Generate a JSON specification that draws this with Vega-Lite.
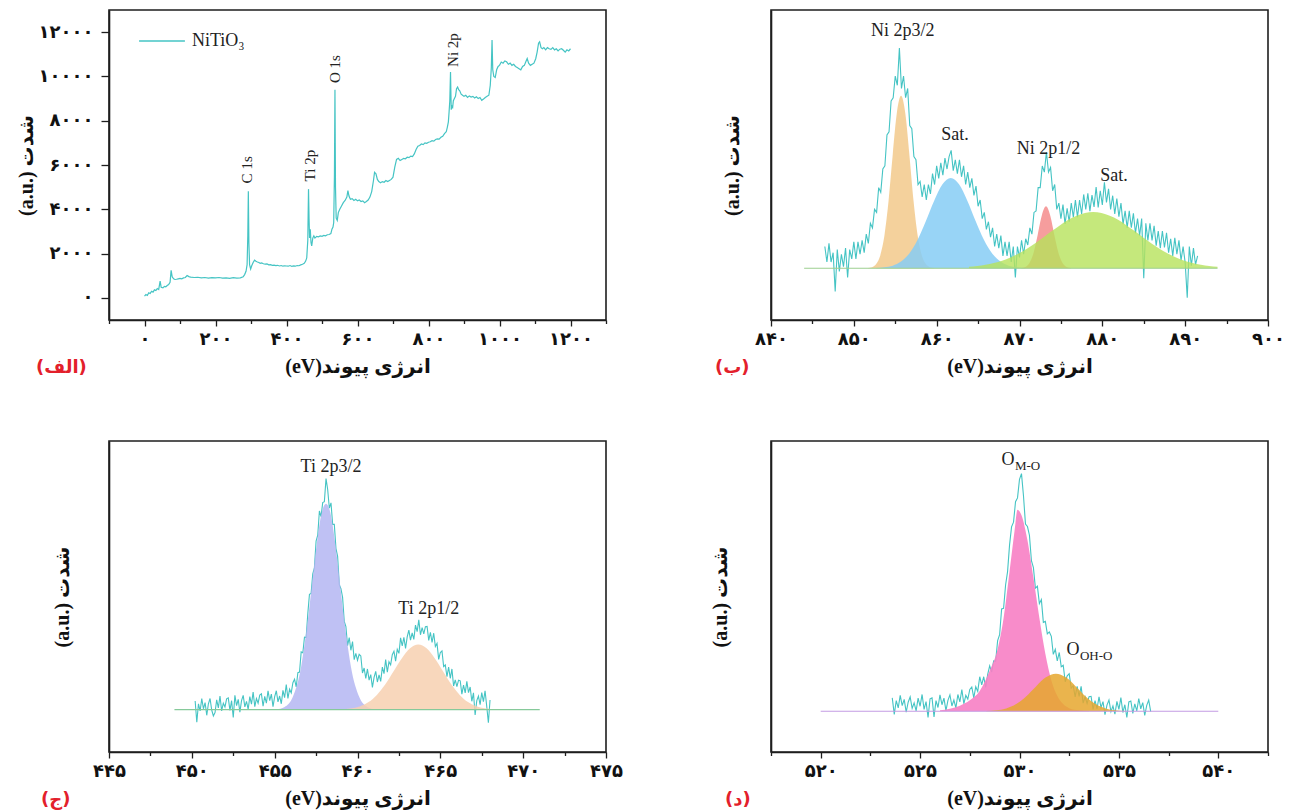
{
"$schema": "https://vega.github.io/schema/vega-lite/v6.json",
"padding": {"left": 15, "top": 9, "right": 0, "bottom": 0},
"background": "white",
"bounds": "flush",
"columns": 2,
"spacing": {"row": 121, "column": 165},
"config": {
  "view": {"stroke": "#1e1e1e", "strokeWidth": 1.6},
  "axis": {"domainColor": "#1e1e1e", "domainWidth": 1.6, "tickColor": "#1e1e1e", "tickWidth": 1.3, "labelFont": "DejaVu Sans", "labelFontWeight": "bold", "labelFontSize": 18, "labelColor": "#111", "titleFont": "Liberation Serif, DejaVu Sans", "titleFontWeight": "bold", "titleFontSize": 20, "titleColor": "#111", "grid": false, "labelFlush": false, "labelOverlap": false},
  "title": {"font": "DejaVu Sans", "fontWeight": "bold", "fontSize": 18, "color": "#e3202b", "frame": "group"}
},
"datasets": {
  "a": [{"e":0,"i":80},{"e":4,"i":150},{"e":8,"i":110},{"e":12,"i":230},{"e":16,"i":200},{"e":20,"i":300},{"e":24,"i":260},{"e":28,"i":360},{"e":32,"i":330},{"e":36,"i":420},{"e":40,"i":380},{"e":44,"i":760},{"e":47,"i":480},{"e":52,"i":450},{"e":56,"i":520},{"e":60,"i":500},{"e":64,"i":560},{"e":68,"i":600},{"e":72,"i":700},{"e":75,"i":1240},{"e":78,"i":950},{"e":82,"i":860},{"e":86,"i":830},{"e":90,"i":840},{"e":95,"i":860},{"e":100,"i":880},{"e":105,"i":860},{"e":110,"i":900},{"e":115,"i":920},{"e":120,"i":1010},{"e":125,"i":960},{"e":130,"i":940},{"e":140,"i":920},{"e":150,"i":930},{"e":160,"i":900},{"e":170,"i":920},{"e":180,"i":890},{"e":190,"i":910},{"e":200,"i":900},{"e":210,"i":920},{"e":220,"i":890},{"e":230,"i":900},{"e":240,"i":880},{"e":250,"i":910},{"e":260,"i":890},{"e":270,"i":900},{"e":278,"i":950},{"e":282,"i":1050},{"e":286,"i":1200},{"e":289,"i":1500},{"e":291,"i":2800},{"e":292.5,"i":4810},{"e":294,"i":2500},{"e":296,"i":1500},{"e":299,"i":1300},{"e":302,"i":1450},{"e":306,"i":1600},{"e":310,"i":1700},{"e":314,"i":1650},{"e":318,"i":1620},{"e":322,"i":1600},{"e":326,"i":1560},{"e":330,"i":1580},{"e":335,"i":1540},{"e":340,"i":1520},{"e":345,"i":1530},{"e":350,"i":1490},{"e":355,"i":1500},{"e":360,"i":1470},{"e":365,"i":1480},{"e":370,"i":1460},{"e":375,"i":1470},{"e":380,"i":1440},{"e":385,"i":1460},{"e":390,"i":1430},{"e":395,"i":1450},{"e":400,"i":1440},{"e":405,"i":1430},{"e":410,"i":1460},{"e":415,"i":1420},{"e":420,"i":1440},{"e":425,"i":1430},{"e":430,"i":1460},{"e":435,"i":1450},{"e":440,"i":1490},{"e":445,"i":1520},{"e":450,"i":1560},{"e":454,"i":1660},{"e":457,"i":1800},{"e":460,"i":2600},{"e":462,"i":4910},{"e":463.5,"i":3600},{"e":465,"i":2700},{"e":467,"i":3100},{"e":469,"i":2500},{"e":471,"i":2350},{"e":474,"i":2700},{"e":477,"i":2800},{"e":480,"i":2700},{"e":485,"i":2780},{"e":490,"i":2760},{"e":495,"i":2800},{"e":500,"i":2780},{"e":505,"i":2820},{"e":510,"i":2800},{"e":515,"i":2850},{"e":520,"i":2860},{"e":525,"i":2900},{"e":528,"i":3100},{"e":531,"i":3200},{"e":533,"i":3400},{"e":535,"i":5500},{"e":536.5,"i":9400},{"e":538,"i":5000},{"e":540,"i":3600},{"e":543,"i":3500},{"e":546,"i":3850},{"e":550,"i":4000},{"e":555,"i":4150},{"e":560,"i":4300},{"e":565,"i":4400},{"e":570,"i":4550},{"e":573,"i":4840},{"e":576,"i":4600},{"e":580,"i":4450},{"e":585,"i":4480},{"e":590,"i":4400},{"e":595,"i":4450},{"e":600,"i":4380},{"e":605,"i":4420},{"e":610,"i":4350},{"e":615,"i":4380},{"e":620,"i":4300},{"e":625,"i":4350},{"e":630,"i":4420},{"e":635,"i":4550},{"e":640,"i":4800},{"e":645,"i":5300},{"e":648,"i":5670},{"e":652,"i":5600},{"e":656,"i":5350},{"e":660,"i":5250},{"e":665,"i":5200},{"e":670,"i":5250},{"e":675,"i":5220},{"e":680,"i":5300},{"e":685,"i":5250},{"e":690,"i":5300},{"e":695,"i":5350},{"e":700,"i":5450},{"e":705,"i":5900},{"e":710,"i":6250},{"e":715,"i":6300},{"e":720,"i":6200},{"e":725,"i":6250},{"e":730,"i":6300},{"e":735,"i":6280},{"e":740,"i":6350},{"e":745,"i":6330},{"e":750,"i":6400},{"e":755,"i":6380},{"e":760,"i":6500},{"e":765,"i":6700},{"e":770,"i":6850},{"e":775,"i":6880},{"e":780,"i":6950},{"e":785,"i":6920},{"e":790,"i":7000},{"e":795,"i":6980},{"e":800,"i":7030},{"e":805,"i":7050},{"e":810,"i":7100},{"e":815,"i":7080},{"e":820,"i":7150},{"e":825,"i":7180},{"e":830,"i":7170},{"e":835,"i":7250},{"e":840,"i":7300},{"e":845,"i":7420},{"e":850,"i":7500},{"e":853,"i":7700},{"e":856,"i":7950},{"e":858,"i":8400},{"e":860,"i":8900},{"e":862,"i":10200},{"e":864,"i":8500},{"e":866,"i":8650},{"e":868,"i":8600},{"e":870,"i":8900},{"e":873,"i":9000},{"e":876,"i":9100},{"e":879,"i":9450},{"e":882,"i":9520},{"e":885,"i":9400},{"e":888,"i":9350},{"e":892,"i":9200},{"e":896,"i":9150},{"e":900,"i":9100},{"e":905,"i":9150},{"e":910,"i":9050},{"e":915,"i":9120},{"e":920,"i":9070},{"e":925,"i":9100},{"e":930,"i":9030},{"e":935,"i":9080},{"e":940,"i":9000},{"e":945,"i":9050},{"e":950,"i":8920},{"e":955,"i":8980},{"e":960,"i":9050},{"e":965,"i":9100},{"e":970,"i":9150},{"e":974,"i":9600},{"e":977,"i":10400},{"e":979,"i":11640},{"e":981,"i":10300},{"e":984,"i":10000},{"e":988,"i":9950},{"e":992,"i":10300},{"e":996,"i":10450},{"e":1000,"i":10500},{"e":1005,"i":10650},{"e":1010,"i":10600},{"e":1015,"i":10700},{"e":1020,"i":10660},{"e":1025,"i":10550},{"e":1030,"i":10600},{"e":1035,"i":10500},{"e":1040,"i":10550},{"e":1045,"i":10450},{"e":1050,"i":10400},{"e":1055,"i":10350},{"e":1060,"i":10300},{"e":1065,"i":10450},{"e":1070,"i":10500},{"e":1075,"i":10700},{"e":1078,"i":10810},{"e":1082,"i":10600},{"e":1087,"i":10500},{"e":1092,"i":10550},{"e":1097,"i":10600},{"e":1102,"i":10800},{"e":1106,"i":11100},{"e":1110,"i":11500},{"e":1113,"i":11560},{"e":1117,"i":11300},{"e":1121,"i":11250},{"e":1125,"i":11300},{"e":1130,"i":11200},{"e":1135,"i":11300},{"e":1140,"i":11250},{"e":1145,"i":11220},{"e":1150,"i":11300},{"e":1155,"i":11200},{"e":1160,"i":11250},{"e":1165,"i":11150},{"e":1170,"i":11230},{"e":1175,"i":11250},{"e":1180,"i":11180},{"e":1185,"i":11100},{"e":1190,"i":11200},{"e":1195,"i":11150},{"e":1200,"i":11250}],
  "aLab": [{"e":288,"i":5170,"t":"C 1s"},{"e":466.6,"i":5260,"t":"Ti 2p"},{"e":535.8,"i":9700,"t":"O 1s"},{"e":868.5,"i":10430,"t":"Ni 2p"}],
  "b": [{"e":846.5,"i":7},{"e":846.75,"i":2},{"e":847,"i":8},{"e":847.25,"i":2},{"e":847.5,"i":5},{"e":847.75,"i":-7.5},{"e":848,"i":6},{"e":848.25,"i":-1},{"e":848.5,"i":4.5},{"e":848.75,"i":0.5},{"e":849,"i":6.5},{"e":849.25,"i":-3},{"e":849.5,"i":6},{"e":849.75,"i":3},{"e":850,"i":8.5},{"e":850.25,"i":3},{"e":850.5,"i":8.5},{"e":850.75,"i":4.5},{"e":851,"i":9},{"e":851.25,"i":5},{"e":851.5,"i":11},{"e":851.75,"i":8},{"e":852,"i":14.5},{"e":852.25,"i":13},{"e":852.5,"i":19},{"e":852.75,"i":18},{"e":853,"i":26},{"e":853.25,"i":24.5},{"e":853.5,"i":32},{"e":853.75,"i":33},{"e":854,"i":43},{"e":854.25,"i":44},{"e":854.5,"i":54},{"e":854.75,"i":55},{"e":855,"i":62},{"e":855.25,"i":59},{"e":855.5,"i":71},{"e":855.75,"i":58},{"e":856,"i":62},{"e":856.25,"i":55},{"e":856.5,"i":58},{"e":856.75,"i":46},{"e":857,"i":45},{"e":857.25,"i":36},{"e":857.5,"i":35},{"e":857.75,"i":27},{"e":858,"i":28},{"e":858.25,"i":23},{"e":858.5,"i":27},{"e":858.75,"i":22},{"e":859,"i":27},{"e":859.25,"i":24},{"e":859.5,"i":30.5},{"e":859.75,"i":27},{"e":860,"i":33},{"e":860.25,"i":29},{"e":860.5,"i":34},{"e":860.75,"i":30},{"e":861,"i":35.5},{"e":861.25,"i":32},{"e":861.5,"i":36},{"e":861.75,"i":38},{"e":862,"i":31.5},{"e":862.25,"i":35},{"e":862.5,"i":30.5},{"e":862.75,"i":35},{"e":863,"i":29.5},{"e":863.25,"i":33},{"e":863.5,"i":27},{"e":863.75,"i":31},{"e":864,"i":26},{"e":864.25,"i":29},{"e":864.5,"i":23.5},{"e":864.75,"i":26.5},{"e":865,"i":20},{"e":865.25,"i":22},{"e":865.5,"i":16},{"e":865.75,"i":18},{"e":866,"i":12.5},{"e":866.25,"i":15},{"e":866.5,"i":10},{"e":866.75,"i":13},{"e":867,"i":7},{"e":867.25,"i":11},{"e":867.5,"i":6.5},{"e":867.75,"i":10.5},{"e":868,"i":4},{"e":868.25,"i":8.5},{"e":868.5,"i":4},{"e":868.75,"i":8.5},{"e":869,"i":2},{"e":869.25,"i":7},{"e":869.5,"i":-3},{"e":869.75,"i":7},{"e":870,"i":3.5},{"e":870.25,"i":9},{"e":870.5,"i":4.5},{"e":870.75,"i":9.5},{"e":871,"i":7.5},{"e":871.25,"i":13},{"e":871.5,"i":11},{"e":871.75,"i":18},{"e":872,"i":18.5},{"e":872.25,"i":26},{"e":872.5,"i":26},{"e":872.75,"i":33},{"e":873,"i":31},{"e":873.25,"i":37.5},{"e":873.5,"i":31},{"e":873.75,"i":32.5},{"e":874,"i":25},{"e":874.25,"i":27},{"e":874.5,"i":19},{"e":874.75,"i":21},{"e":875,"i":16},{"e":875.25,"i":20.5},{"e":875.5,"i":14.3},{"e":875.75,"i":19.3},{"e":876,"i":15},{"e":876.25,"i":21},{"e":876.5,"i":16.5},{"e":876.75,"i":22},{"e":877,"i":16.5},{"e":877.25,"i":22},{"e":877.5,"i":17.5},{"e":877.75,"i":23.8},{"e":878,"i":19},{"e":878.25,"i":24.2},{"e":878.5,"i":18.4},{"e":878.75,"i":23.6},{"e":879,"i":19.8},{"e":879.25,"i":26.2},{"e":879.5,"i":19.6},{"e":879.75,"i":25},{"e":880,"i":20.4},{"e":880.25,"i":27.7},{"e":880.5,"i":21.2},{"e":880.75,"i":25.6},{"e":881,"i":19},{"e":881.25,"i":23.4},{"e":881.5,"i":17.5},{"e":881.75,"i":22.5},{"e":882,"i":16.6},{"e":882.25,"i":21},{"e":882.5,"i":14.2},{"e":882.75,"i":18.5},{"e":883,"i":13},{"e":883.25,"i":18.5},{"e":883.5,"i":13.1},{"e":883.75,"i":17.7},{"e":884,"i":11.3},{"e":884.25,"i":16},{"e":884.5,"i":10.5},{"e":884.75,"i":16},{"e":885,"i":-3.2},{"e":885.25,"i":14.5},{"e":885.5,"i":9},{"e":885.75,"i":14.5},{"e":886,"i":9},{"e":886.25,"i":13.7},{"e":886.5,"i":7.3},{"e":886.75,"i":12},{"e":887,"i":6.5},{"e":887.25,"i":12},{"e":887.5,"i":6.7},{"e":887.75,"i":11.4},{"e":888,"i":5},{"e":888.25,"i":9.5},{"e":888.5,"i":4},{"e":888.75,"i":9.8},{"e":889,"i":4.5},{"e":889.25,"i":9},{"e":889.5,"i":2.5},{"e":889.75,"i":7},{"e":890,"i":1.8},{"e":890.25,"i":-9.5},{"e":890.5,"i":7},{"e":890.75,"i":0.8},{"e":891,"i":6.5},{"e":891.25,"i":1.2},{"e":891.5,"i":4}],
  "bc": [{"p":"o","e":851.7,"i":0.07},{"p":"o","e":852.2,"i":0.35},{"p":"o","e":852.7,"i":1.35},{"p":"o","e":853.2,"i":4.2},{"p":"o","e":853.7,"i":10.6},{"p":"o","e":854.2,"i":21.9},{"p":"o","e":854.7,"i":36.8},{"p":"o","e":855.2,"i":50.2},{"p":"o","e":855.7,"i":55.6},{"p":"o","e":856.2,"i":50.2},{"p":"o","e":856.7,"i":36.8},{"p":"o","e":857.2,"i":21.9},{"p":"o","e":857.7,"i":10.6},{"p":"o","e":858.2,"i":4.2},{"p":"o","e":858.7,"i":1.35},{"p":"o","e":859.2,"i":0.35},{"p":"o","e":859.7,"i":0.07},
    {"p":"b","e":852.7,"i":0.08},{"p":"b","e":853.7,"i":0.28},{"p":"b","e":854.7,"i":0.84},{"p":"b","e":855.7,"i":2.15},{"p":"b","e":856.7,"i":4.78},{"p":"b","e":857.7,"i":9.15},{"p":"b","e":858.7,"i":15.2},{"p":"b","e":859.7,"i":21.8},{"p":"b","e":860.7,"i":27.1},{"p":"b","e":861.7,"i":29.1},{"p":"b","e":862.7,"i":27.1},{"p":"b","e":863.7,"i":21.8},{"p":"b","e":864.7,"i":15.2},{"p":"b","e":865.7,"i":9.15},{"p":"b","e":866.7,"i":4.78},{"p":"b","e":867.7,"i":2.15},{"p":"b","e":868.7,"i":0.84},{"p":"b","e":869.7,"i":0.28},{"p":"b","e":870.7,"i":0.08},
    {"p":"p","e":870.2,"i":0.08},{"p":"p","e":870.7,"i":0.42},{"p":"p","e":871.2,"i":1.7},{"p":"p","e":871.7,"i":5},{"p":"p","e":872.2,"i":10.8},{"p":"p","e":872.7,"i":17.1},{"p":"p","e":873.2,"i":20},{"p":"p","e":873.7,"i":17.1},{"p":"p","e":874.2,"i":10.8},{"p":"p","e":874.7,"i":5},{"p":"p","e":875.2,"i":1.7},{"p":"p","e":875.7,"i":0.42},{"p":"p","e":876.2,"i":0.08},
    {"p":"g","e":863.9,"i":0.44},{"p":"g","e":864.9,"i":0.71},{"p":"g","e":865.9,"i":1.11},{"p":"g","e":866.9,"i":1.68},{"p":"g","e":867.9,"i":2.45},{"p":"g","e":868.9,"i":3.46},{"p":"g","e":869.9,"i":4.74},{"p":"g","e":870.9,"i":6.28},{"p":"g","e":871.9,"i":8.05},{"p":"g","e":872.9,"i":9.99},{"p":"g","e":873.9,"i":12},{"p":"g","e":874.9,"i":13.9},{"p":"g","e":875.9,"i":15.6},{"p":"g","e":876.9,"i":16.9},{"p":"g","e":877.9,"i":17.8},{"p":"g","e":878.9,"i":18.1},{"p":"g","e":879.9,"i":17.8},{"p":"g","e":880.9,"i":16.9},{"p":"g","e":881.9,"i":15.6},{"p":"g","e":882.9,"i":13.9},{"p":"g","e":883.9,"i":12},{"p":"g","e":884.9,"i":9.99},{"p":"g","e":885.9,"i":8.05},{"p":"g","e":886.9,"i":6.28},{"p":"g","e":887.9,"i":4.74},{"p":"g","e":888.9,"i":3.46},{"p":"g","e":889.9,"i":2.45},{"p":"g","e":890.9,"i":1.68},{"p":"g","e":891.9,"i":1.11},{"p":"g","e":892.9,"i":0.71},{"p":"g","e":893.9,"i":0.44}],
  "bb": [{"e":844,"i":0},{"e":893.9,"i":0}],
  "bLab": [{"e":855.9,"i":76.4,"t":"Ni 2p3/2"},{"e":862.2,"i":43,"t":"Sat."},{"e":873.5,"i":38.5,"t":"Ni 2p1/2"},{"e":881.4,"i":29.9,"t":"Sat."}],
  "c": [{"e":450.2,"i":2.8},{"e":450.3,"i":-4},{"e":450.4,"i":1.9},{"e":450.5,"i":-0.4},{"e":450.6,"i":3.6},{"e":450.7,"i":0.3},{"e":450.8,"i":2.3},{"e":450.9,"i":-1.8},{"e":451,"i":1.9},{"e":451.1,"i":3.6},{"e":451.2,"i":-0.1},{"e":451.3,"i":-2},{"e":451.4,"i":-0.9},{"e":451.5,"i":3.2},{"e":451.6,"i":0.6},{"e":451.7,"i":4.4},{"e":451.8,"i":-0.4},{"e":451.9,"i":2.1},{"e":452,"i":0.9},{"e":452.1,"i":3.5},{"e":452.2,"i":3.8},{"e":452.3,"i":-0.2},{"e":452.4,"i":2.9},{"e":452.5,"i":-2.5},{"e":452.6,"i":4.6},{"e":452.7,"i":1.3},{"e":452.8,"i":3.3},{"e":452.9,"i":-0.8},{"e":453,"i":2.9},{"e":453.1,"i":4.6},{"e":453.2,"i":0.9},{"e":453.3,"i":2.7},{"e":453.4,"i":0.1},{"e":453.5,"i":4.2},{"e":453.6,"i":1.8},{"e":453.7,"i":5.7},{"e":453.8,"i":1},{"e":453.9,"i":3.6},{"e":454,"i":2.1},{"e":454.1,"i":4.7},{"e":454.2,"i":5.1},{"e":454.3,"i":1.1},{"e":454.4,"i":4.3},{"e":454.5,"i":2.1},{"e":454.6,"i":6.1},{"e":454.7,"i":2.9},{"e":454.8,"i":5},{"e":454.9,"i":1},{"e":455,"i":4.2},{"e":455.1,"i":6.1},{"e":455.2,"i":2.5},{"e":455.3,"i":4.4},{"e":455.4,"i":1.9},{"e":455.5,"i":6.2},{"e":455.6,"i":3.9},{"e":455.7,"i":8.1},{"e":455.8,"i":3.6},{"e":455.9,"i":6.6},{"e":456,"i":5.4},{"e":456.1,"i":8.7},{"e":456.2,"i":9.8},{"e":456.3,"i":7.3},{"e":456.4,"i":11.9},{"e":456.5,"i":12.1},{"e":456.6,"i":18.6},{"e":456.7,"i":18.3},{"e":456.8,"i":23.3},{"e":456.9,"i":23.2},{"e":457,"i":30.9},{"e":457.1,"i":37.1},{"e":457.2,"i":37.4},{"e":457.3,"i":43.7},{"e":457.4,"i":45.6},{"e":457.5,"i":54.2},{"e":457.6,"i":56.1},{"e":457.7,"i":63.9},{"e":457.8,"i":62.1},{"e":457.9,"i":66.6},{"e":458,"i":66.9},{"e":458.1,"i":74.3},{"e":458.2,"i":70.8},{"e":458.3,"i":64.8},{"e":458.4,"i":66.5},{"e":458.5,"i":59.6},{"e":458.6,"i":59.6},{"e":458.7,"i":51.8},{"e":458.8,"i":49.3},{"e":458.9,"i":40.2},{"e":459,"i":38.9},{"e":459.1,"i":36.1},{"e":459.2,"i":28.4},{"e":459.3,"i":26.7},{"e":459.4,"i":20.6},{"e":459.5,"i":23.2},{"e":459.6,"i":19.1},{"e":459.7,"i":21.9},{"e":459.8,"i":16.1},{"e":459.9,"i":18.1},{"e":460,"i":15.9},{"e":460.1,"i":17.8},{"e":460.2,"i":17.3},{"e":460.3,"i":11.8},{"e":460.4,"i":13.4},{"e":460.5,"i":10.1},{"e":460.6,"i":13.1},{"e":460.7,"i":9.5},{"e":460.8,"i":11.3},{"e":460.9,"i":7.2},{"e":461,"i":10.4},{"e":461.1,"i":12.3},{"e":461.2,"i":8.9},{"e":461.3,"i":11.2},{"e":461.4,"i":9.1},{"e":461.5,"i":13.7},{"e":461.6,"i":11.6},{"e":461.7,"i":16.1},{"e":461.8,"i":12.1},{"e":461.9,"i":15.4},{"e":462,"i":14.4},{"e":462.1,"i":17.7},{"e":462.2,"i":18.8},{"e":462.3,"i":15.6},{"e":462.4,"i":19.4},{"e":462.5,"i":18.1},{"e":462.6,"i":23.1},{"e":462.7,"i":20.5},{"e":462.8,"i":23.3},{"e":462.9,"i":19.7},{"e":463,"i":23.4},{"e":463.1,"i":25.6},{"e":463.2,"i":22.4},{"e":463.3,"i":24.7},{"e":463.4,"i":22.6},{"e":463.5,"i":27.2},{"e":463.6,"i":25.1},{"e":463.7,"i":28.9},{"e":463.8,"i":24.1},{"e":463.9,"i":26.4},{"e":464,"i":24.4},{"e":464.1,"i":26.7},{"e":464.2,"i":26.8},{"e":464.3,"i":22.3},{"e":464.4,"i":24.9},{"e":464.5,"i":21.6},{"e":464.6,"i":24.6},{"e":464.7,"i":20.3},{"e":464.8,"i":21.3},{"e":464.9,"i":16.2},{"e":465,"i":18.4},{"e":465.1,"i":18.9},{"e":465.2,"i":13.9},{"e":465.3,"i":14.4},{"e":465.4,"i":10.6},{"e":465.5,"i":13.7},{"e":465.6,"i":10.1},{"e":465.7,"i":13.1},{"e":465.8,"i":7.6},{"e":465.9,"i":9.6},{"e":466,"i":7.4},{"e":466.1,"i":9.5},{"e":466.2,"i":9.3},{"e":466.3,"i":5},{"e":466.4,"i":7.9},{"e":466.5,"i":5.4},{"e":466.6,"i":9.1},{"e":466.7,"i":5.5},{"e":466.8,"i":7.3},{"e":466.9,"i":2.7},{"e":467,"i":5.4},{"e":467.1,"i":-1.7},{"e":467.2,"i":2.9},{"e":467.3,"i":4.4},{"e":467.4,"i":1.6},{"e":467.5,"i":5.5},{"e":467.6,"i":2.6},{"e":467.7,"i":6.1},{"e":467.8,"i":1.1},{"e":467.9,"i":-4.2},{"e":468,"i":3.1}],
  "cc": [{"p":"v","e":454.6,"i":0.01},{"p":"v","e":455.1,"i":0.13},{"p":"v","e":455.6,"i":0.88},{"p":"v","e":456.1,"i":4.16},{"p":"v","e":456.6,"i":13.9},{"p":"v","e":456.85,"i":22.8},{"p":"v","e":457.1,"i":33.1},{"p":"v","e":457.35,"i":44.9},{"p":"v","e":457.6,"i":55.7},{"p":"v","e":457.85,"i":63.6},{"p":"v","e":458.1,"i":66.2},{"p":"v","e":458.35,"i":63.6},{"p":"v","e":458.6,"i":55.7},{"p":"v","e":458.85,"i":44.9},{"p":"v","e":459.1,"i":33.1},{"p":"v","e":459.35,"i":22.8},{"p":"v","e":459.6,"i":13.9},{"p":"v","e":460.1,"i":4.16},{"p":"v","e":460.6,"i":0.88},{"p":"v","e":461.1,"i":0.13},{"p":"v","e":461.6,"i":0.01},
    {"p":"o","e":458.67,"i":0.05},{"p":"o","e":459.17,"i":0.17},{"p":"o","e":459.67,"i":0.47},{"p":"o","e":460.17,"i":1.14},{"p":"o","e":460.67,"i":2.47},{"p":"o","e":461.17,"i":4.76},{"p":"o","e":461.67,"i":8.1},{"p":"o","e":462.17,"i":12.3},{"p":"o","e":462.67,"i":16.5},{"p":"o","e":463.17,"i":19.8},{"p":"o","e":463.67,"i":21},{"p":"o","e":464.17,"i":19.8},{"p":"o","e":464.67,"i":16.5},{"p":"o","e":465.17,"i":12.3},{"p":"o","e":465.67,"i":8.1},{"p":"o","e":466.17,"i":4.76},{"p":"o","e":466.67,"i":2.47},{"p":"o","e":467.17,"i":1.14},{"p":"o","e":467.67,"i":0.47},{"p":"o","e":468.17,"i":0.17},{"p":"o","e":468.67,"i":0.05}],
  "cb": [{"e":448.95,"i":0},{"e":471,"i":0}],
  "cLab": [{"e":458.4,"i":78,"t":"Ti 2p3/2"},{"e":464.3,"i":32.3,"t":"Ti 2p1/2"}],
  "d": [{"e":523.6,"i":4.3},{"e":523.7,"i":-1},{"e":523.8,"i":3.4},{"e":523.9,"i":1.1},{"e":524,"i":5.1},{"e":524.1,"i":1.8},{"e":524.2,"i":3.8},{"e":524.3,"i":-0.3},{"e":524.4,"i":2.9},{"e":524.5,"i":4.6},{"e":524.6,"i":0.9},{"e":524.7,"i":2.7},{"e":524.8,"i":0.1},{"e":524.9,"i":4.2},{"e":525,"i":1.6},{"e":525.1,"i":5.4},{"e":525.2,"i":0.6},{"e":525.3,"i":3.1},{"e":525.4,"i":-2},{"e":525.5,"i":4},{"e":525.6,"i":4.3},{"e":525.7,"i":-1.8},{"e":525.8,"i":3.4},{"e":525.9,"i":1.2},{"e":526,"i":5.3},{"e":526.1,"i":2.1},{"e":526.2,"i":4.2},{"e":526.3,"i":0.2},{"e":526.4,"i":3.5},{"e":526.5,"i":5.3},{"e":526.6,"i":1.7},{"e":526.7,"i":3.6},{"e":526.8,"i":1.1},{"e":526.9,"i":5.4},{"e":527,"i":3},{"e":527.1,"i":7},{"e":527.2,"i":2.4},{"e":527.3,"i":5.1},{"e":527.4,"i":3.9},{"e":527.5,"i":7},{"e":527.6,"i":7.8},{"e":527.7,"i":4.3},{"e":527.8,"i":7.9},{"e":527.9,"i":6.4},{"e":528,"i":11.1},{"e":528.1,"i":8.5},{"e":528.2,"i":11.1},{"e":528.3,"i":7.7},{"e":528.4,"i":11.9},{"e":528.5,"i":14.6},{"e":528.6,"i":12.6},{"e":528.7,"i":16.2},{"e":528.8,"i":16.1},{"e":528.9,"i":22.7},{"e":529,"i":24.6},{"e":529.1,"i":32.9},{"e":529.2,"i":33.1},{"e":529.3,"i":40.6},{"e":529.4,"i":44.9},{"e":529.5,"i":53.5},{"e":529.6,"i":59.3},{"e":529.7,"i":60.8},{"e":529.8,"i":67.4},{"e":529.9,"i":68.6},{"e":530,"i":74.6},{"e":530.1,"i":76.4},{"e":530.2,"i":69.3},{"e":530.3,"i":60.2},{"e":530.4,"i":59.4},{"e":530.5,"i":56.6},{"e":530.6,"i":48.4},{"e":530.7,"i":46.2},{"e":530.8,"i":39.6},{"e":530.9,"i":40.2},{"e":531,"i":34.6},{"e":531.1,"i":35.9},{"e":531.2,"i":28.6},{"e":531.3,"i":28.9},{"e":531.4,"i":24.9},{"e":531.5,"i":25.5},{"e":531.6,"i":24.1},{"e":531.7,"i":18.3},{"e":531.8,"i":19.9},{"e":531.9,"i":16.2},{"e":532,"i":18.9},{"e":532.1,"i":14.3},{"e":532.2,"i":14.8},{"e":532.3,"i":9.5},{"e":532.4,"i":11.4},{"e":532.5,"i":12.1},{"e":532.6,"i":7.4},{"e":532.7,"i":8.2},{"e":532.8,"i":4.6},{"e":532.9,"i":8},{"e":533,"i":4.8},{"e":533.1,"i":8},{"e":533.2,"i":2.6},{"e":533.3,"i":4.6},{"e":533.4,"i":2.5},{"e":533.5,"i":4.7},{"e":533.6,"i":4.8},{"e":533.7,"i":0.6},{"e":533.8,"i":3.4},{"e":533.9,"i":0.8},{"e":534,"i":4.6},{"e":534.1,"i":1.2},{"e":534.2,"i":3.1},{"e":534.3,"i":-1.1},{"e":534.4,"i":2},{"e":534.5,"i":3.6},{"e":534.6,"i":-0.1},{"e":534.7,"i":1.7},{"e":534.8,"i":-0.9},{"e":534.9,"i":3.2},{"e":535,"i":0.6},{"e":535.1,"i":4.4},{"e":535.2,"i":-0.4},{"e":535.3,"i":2.1},{"e":535.4,"i":-2},{"e":535.5,"i":3},{"e":535.6,"i":3.3},{"e":535.7,"i":-0.7},{"e":535.8,"i":2.4},{"e":535.9,"i":0.1},{"e":536,"i":4.1},{"e":536.1,"i":0.8},{"e":536.2,"i":2.8},{"e":536.3,"i":-1.3},{"e":536.4,"i":1.9},{"e":536.5,"i":3.6},{"e":536.6,"i":-0.1}],
  "dc": [{"p":"m","e":526,"i":0.3},{"p":"m","e":526.5,"i":0.8},{"p":"m","e":527,"i":1.8},{"p":"m","e":527.5,"i":3.5},{"p":"m","e":528,"i":6.5},{"p":"m","e":528.5,"i":13},{"p":"m","e":528.9,"i":20},{"p":"m","e":529.2,"i":30},{"p":"m","e":529.5,"i":45},{"p":"m","e":529.75,"i":58},{"p":"m","e":529.9,"i":64.8},{"p":"m","e":530.1,"i":63},{"p":"m","e":530.4,"i":55},{"p":"m","e":530.7,"i":43},{"p":"m","e":531,"i":30},{"p":"m","e":531.3,"i":18.5},{"p":"m","e":531.6,"i":10},{"p":"m","e":531.9,"i":5},{"p":"m","e":532.2,"i":2.3},{"p":"m","e":532.5,"i":1},{"p":"m","e":533,"i":0.3},{"p":"m","e":533.5,"i":0.1},
    {"p":"h","e":528.33,"i":0.08},{"p":"h","e":528.83,"i":0.29},{"p":"h","e":529.33,"i":0.91},{"p":"h","e":529.83,"i":2.31},{"p":"h","e":530.33,"i":4.78},{"p":"h","e":530.83,"i":8},{"p":"h","e":531.33,"i":10.9},{"p":"h","e":531.83,"i":12.1},{"p":"h","e":532.33,"i":10.9},{"p":"h","e":532.83,"i":8},{"p":"h","e":533.33,"i":4.78},{"p":"h","e":533.83,"i":2.31},{"p":"h","e":534.33,"i":0.91},{"p":"h","e":534.83,"i":0.29},{"p":"h","e":535.33,"i":0.08}],
  "db": [{"e":520,"i":0},{"e":540,"i":0}],
  "dLab": [{"e":529.09,"i":80.9,"m":"O","s":"M-O"},{"e":532.36,"i":19.6,"m":"O","s":"OH-O"}]
},
"concat": [
  {"width": 497, "height": 310,
   "title": {"text": "(الف)", "orient": "bottom", "anchor": "start", "offset": -17, "dx": -73},
   "resolve": {"axis": {"x": "independent"}},
   "layer": [
    {"data": {"name": "a"}, "mark": {"type": "line", "strokeWidth": 1.2},
     "encoding": {
      "x": {"field": "e", "type": "quantitative", "scale": {"domain": [-100, 1300], "nice": false, "zero": false},
        "axis": {"orient": "bottom", "title": "(eV)انرژی پیوند", "values": [0,200,400,600,800,1000,1200], "labelOverlap": false, "labelExpr": "replace(replace(replace(replace(replace(replace(replace(replace(replace(replace(toString(datum.value),regexp('0','g'),'۰'),regexp('1','g'),'۱'),regexp('2','g'),'۲'),regexp('3','g'),'۳'),regexp('4','g'),'۴'),regexp('5','g'),'۵'),regexp('6','g'),'۶'),regexp('7','g'),'۷'),regexp('8','g'),'۸'),regexp('9','g'),'۹')", "tickSize": 6, "labelPadding": 4, "titlePadding": 8}},
      "y": {"field": "i", "type": "quantitative", "scale": {"domain": [-1000, 13000], "nice": false, "zero": false},
        "axis": {"title": "(a.u.)  شدت", "values": [0,1000,2000,3000,4000,5000,6000,7000,8000,9000,10000,11000,12000], "labelOverlap": false, "labelExpr": "datum.value % 2000 == 0 ? replace(replace(replace(replace(replace(replace(replace(replace(replace(replace(toString(datum.value),regexp('0','g'),'۰'),regexp('1','g'),'۱'),regexp('2','g'),'۲'),regexp('3','g'),'۳'),regexp('4','g'),'۴'),regexp('5','g'),'۵'),regexp('6','g'),'۶'),regexp('7','g'),'۷'),regexp('8','g'),'۸'),regexp('9','g'),'۹') : ''", "tickSize": {"condition": {"test": "datum.value % 2000 != 0", "value": 4}, "value": 8}, "labelPadding": 8, "titlePadding": 2}},
      "color": {"datum": "NiTiO₃", "scale": {"range": ["#45c4c4"]}, "legend": {"orient": "none", "legendX": 29, "legendY": 7, "title": null, "symbolType": "stroke", "symbolSize": 2100, "symbolStrokeWidth": 1.5, "labelFont": "Liberation Serif", "labelFontSize": 18, "labelColor": "#222", "labelOffset": 6, "padding": 0}}
     }},
    {"data": {"name": "aLab"}, "mark": {"type": "text", "angle": 270, "align": "left", "baseline": "middle", "font": "Liberation Serif", "fontSize": 15, "color": "#222"},
     "encoding": {"x": {"field": "e", "type": "quantitative", "axis": {"orient": "bottom", "values": [-100,100,300,500,700,900,1100,1300], "labels": false, "domain": false, "title": null, "tickSize": 3.5}}, "y": {"field": "i", "type": "quantitative"}, "text": {"field": "t"}}}
   ]},
  {"width": 497, "height": 310,
   "title": {"text": "(ب)", "orient": "bottom", "anchor": "start", "offset": -17, "dx": -56},
   "layer": [
    {"data": {"name": "b"}, "mark": {"type": "line", "strokeWidth": 1.1, "color": "#45c4c4"},
     "encoding": {
      "x": {"field": "e", "type": "quantitative", "scale": {"domain": [840, 900], "nice": false, "zero": false},
        "axis": {"title": "(eV)انرژی پیوند", "values": [840,845,850,855,860,865,870,875,880,885,890,895,900], "labelOverlap": false, "labelExpr": "datum.value % 10 == 0 ? replace(replace(replace(replace(replace(replace(replace(replace(replace(replace(toString(datum.value),regexp('0','g'),'۰'),regexp('1','g'),'۱'),regexp('2','g'),'۲'),regexp('3','g'),'۳'),regexp('4','g'),'۴'),regexp('5','g'),'۵'),regexp('6','g'),'۶'),regexp('7','g'),'۷'),regexp('8','g'),'۸'),regexp('9','g'),'۹') : ''", "tickSize": {"condition": {"test": "datum.value % 10 != 0", "value": 3.5}, "value": 6}, "labelPadding": 4, "titlePadding": 8}},
      "y": {"field": "i", "type": "quantitative", "scale": {"domain": [-16.7, 83.3], "nice": false, "zero": false},
        "axis": {"title": "(a.u.)  شدت", "ticks": false, "labels": false, "titlePadding": 29}}
     }},
    {"data": {"name": "bc"}, "transform": [{"filter": "datum.p == 'o'"}], "mark": {"type": "area", "color": "#f2c98b", "opacity": 0.85, "interpolate": "monotone"},
     "encoding": {"x": {"field": "e", "type": "quantitative"}, "y": {"field": "i", "type": "quantitative"}, "y2": {"datum": 0}}},
    {"data": {"name": "bc"}, "transform": [{"filter": "datum.p == 'b'"}], "mark": {"type": "area", "color": "#86cdf5", "opacity": 0.85, "interpolate": "monotone"},
     "encoding": {"x": {"field": "e", "type": "quantitative"}, "y": {"field": "i", "type": "quantitative"}, "y2": {"datum": 0}}},
    {"data": {"name": "bc"}, "transform": [{"filter": "datum.p == 'p'"}], "mark": {"type": "area", "color": "#f48c8c", "opacity": 0.85, "interpolate": "monotone"},
     "encoding": {"x": {"field": "e", "type": "quantitative"}, "y": {"field": "i", "type": "quantitative"}, "y2": {"datum": 0}}},
    {"data": {"name": "bc"}, "transform": [{"filter": "datum.p == 'g'"}], "mark": {"type": "area", "color": "#b7e25b", "opacity": 0.8, "interpolate": "monotone"},
     "encoding": {"x": {"field": "e", "type": "quantitative"}, "y": {"field": "i", "type": "quantitative"}, "y2": {"datum": 0}}},
    {"data": {"name": "bb"}, "mark": {"type": "line", "color": "#9ccf8f", "strokeWidth": 1.2},
     "encoding": {"x": {"field": "e", "type": "quantitative"}, "y": {"field": "i", "type": "quantitative"}}},
    {"data": {"name": "bLab"}, "mark": {"type": "text", "align": "center", "baseline": "middle", "font": "Liberation Serif", "fontSize": 18, "color": "#222"},
     "encoding": {"x": {"field": "e", "type": "quantitative"}, "y": {"field": "i", "type": "quantitative"}, "text": {"field": "t"}}}
   ]},
  {"width": 497, "height": 311,
   "title": {"text": "(ج)", "orient": "bottom", "anchor": "start", "offset": -17, "dx": -68},
   "layer": [
    {"data": {"name": "c"}, "mark": {"type": "line", "strokeWidth": 1.1, "color": "#45c4c4"},
     "encoding": {
      "x": {"field": "e", "type": "quantitative", "scale": {"domain": [445, 475], "nice": false, "zero": false},
        "axis": {"title": "(eV)انرژی پیوند", "values": [445,447.5,450,452.5,455,457.5,460,462.5,465,467.5,470,472.5,475], "labelOverlap": false, "labelExpr": "datum.value % 5 == 0 ? replace(replace(replace(replace(replace(replace(replace(replace(replace(replace(toString(datum.value),regexp('0','g'),'۰'),regexp('1','g'),'۱'),regexp('2','g'),'۲'),regexp('3','g'),'۳'),regexp('4','g'),'۴'),regexp('5','g'),'۵'),regexp('6','g'),'۶'),regexp('7','g'),'۷'),regexp('8','g'),'۸'),regexp('9','g'),'۹') : ''", "tickSize": {"condition": {"test": "datum.value % 5 != 0", "value": 3.5}, "value": 6}, "labelPadding": 4, "titlePadding": 8}},
      "y": {"field": "i", "type": "quantitative", "scale": {"domain": [-13.6, 86.4], "nice": false, "zero": false},
        "axis": {"title": "(a.u.)  شدت", "ticks": false, "labels": false, "titlePadding": 37}}
     }},
    {"data": {"name": "cc"}, "transform": [{"filter": "datum.p == 'v'"}], "mark": {"type": "area", "color": "#b4b6f2", "opacity": 0.85, "interpolate": "monotone"},
     "encoding": {"x": {"field": "e", "type": "quantitative"}, "y": {"field": "i", "type": "quantitative"}, "y2": {"datum": 0}}},
    {"data": {"name": "cc"}, "transform": [{"filter": "datum.p == 'o'"}], "mark": {"type": "area", "color": "#f7d0b0", "opacity": 0.85, "interpolate": "monotone"},
     "encoding": {"x": {"field": "e", "type": "quantitative"}, "y": {"field": "i", "type": "quantitative"}, "y2": {"datum": 0}}},
    {"data": {"name": "cb"}, "mark": {"type": "line", "color": "#86c99a", "strokeWidth": 1.2},
     "encoding": {"x": {"field": "e", "type": "quantitative"}, "y": {"field": "i", "type": "quantitative"}}},
    {"data": {"name": "cLab"}, "mark": {"type": "text", "align": "center", "baseline": "middle", "font": "Liberation Serif", "fontSize": 18, "color": "#222"},
     "encoding": {"x": {"field": "e", "type": "quantitative"}, "y": {"field": "i", "type": "quantitative"}, "text": {"field": "t"}}}
   ]},
  {"width": 497, "height": 311,
   "title": {"text": "(د)", "orient": "bottom", "anchor": "start", "offset": -17, "dx": -46},
   "layer": [
    {"data": {"name": "d"}, "mark": {"type": "line", "strokeWidth": 1.1, "color": "#45c4c4"},
     "encoding": {
      "x": {"field": "e", "type": "quantitative", "scale": {"domain": [517.5, 542.5], "nice": false, "zero": false},
        "axis": {"title": "(eV)انرژی پیوند", "values": [517.5,520,522.5,525,527.5,530,532.5,535,537.5,540,542.5], "labelOverlap": false, "labelExpr": "datum.value % 5 == 0 ? replace(replace(replace(replace(replace(replace(replace(replace(replace(replace(toString(datum.value),regexp('0','g'),'۰'),regexp('1','g'),'۱'),regexp('2','g'),'۲'),regexp('3','g'),'۳'),regexp('4','g'),'۴'),regexp('5','g'),'۵'),regexp('6','g'),'۶'),regexp('7','g'),'۷'),regexp('8','g'),'۸'),regexp('9','g'),'۹') : ''", "tickSize": {"condition": {"test": "datum.value % 5 != 0", "value": 3.5}, "value": 6}, "labelPadding": 4, "titlePadding": 8}},
      "y": {"field": "i", "type": "quantitative", "scale": {"domain": [-13.1, 86.9], "nice": false, "zero": false},
        "axis": {"title": "(a.u.)  شدت", "ticks": false, "labels": false, "titlePadding": 41}}
     }},
    {"data": {"name": "dc"}, "transform": [{"filter": "datum.p == 'm'"}], "mark": {"type": "area", "color": "#f77fc4", "opacity": 0.9, "interpolate": "monotone"},
     "encoding": {"x": {"field": "e", "type": "quantitative"}, "y": {"field": "i", "type": "quantitative"}, "y2": {"datum": 0}}},
    {"data": {"name": "dc"}, "transform": [{"filter": "datum.p == 'h'"}], "mark": {"type": "area", "color": "#e6a72e", "opacity": 0.85, "interpolate": "monotone"},
     "encoding": {"x": {"field": "e", "type": "quantitative"}, "y": {"field": "i", "type": "quantitative"}, "y2": {"datum": 0}}},
    {"data": {"name": "db"}, "mark": {"type": "line", "color": "#c39be3", "strokeWidth": 1.2},
     "encoding": {"x": {"field": "e", "type": "quantitative"}, "y": {"field": "i", "type": "quantitative"}}},
    {"data": {"name": "dLab"}, "mark": {"type": "text", "align": "left", "baseline": "middle", "font": "Liberation Serif", "fontSize": 18, "color": "#222"},
     "encoding": {"x": {"field": "e", "type": "quantitative"}, "y": {"field": "i", "type": "quantitative"}, "text": {"field": "m"}}},
    {"data": {"name": "dLab"}, "mark": {"type": "text", "align": "left", "baseline": "middle", "font": "Liberation Serif", "fontSize": 13, "color": "#222", "dx": 13.5, "dy": 6},
     "encoding": {"x": {"field": "e", "type": "quantitative"}, "y": {"field": "i", "type": "quantitative"}, "text": {"field": "s"}}}
   ]}
]
}
